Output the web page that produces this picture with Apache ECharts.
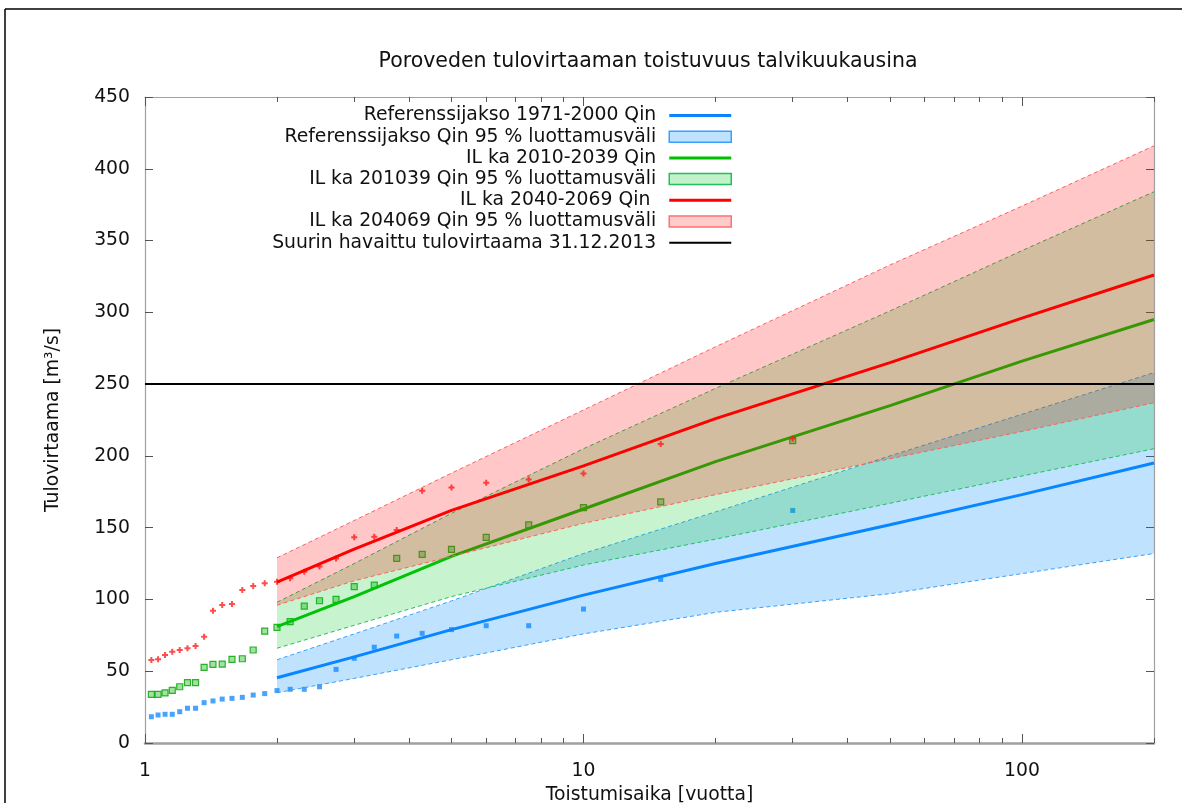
<!DOCTYPE html>
<html><head><meta charset="utf-8">
<script src="https://cdn.jsdelivr.net/npm/echarts@6/dist/echarts.min.js"></script>
<style>html,body{margin:0;padding:0;background:#fff}#c{width:1182px;height:803px}</style>
</head><body><div id="c"></div>
<script>
// ---- data ----
const returnPeriods = [30, 15, 10, 7.5, 6, 5, 4.286, 3.75, 3.333, 3, 2.727, 2.5, 2.308, 2.143, 2, 1.875, 1.765, 1.667, 1.579, 1.5, 1.429, 1.364, 1.304, 1.25, 1.2, 1.154, 1.111, 1.071, 1.034];
const refObserved = [162, 114, 93.3, 81.7, 81.7, 79, 76.4, 74.5, 66.7, 59, 51.3, 39.2, 37.4, 37.4, 36.5, 34.4, 33.4, 31.8, 31.1, 30.6, 29.3, 28.1, 24.2, 24.2, 21.8, 20, 20, 19.5, 18.3];
const il1Observed = [210.6, 168, 164, 152, 143.3, 134.9, 131.4, 128.6, 110, 108.9, 100, 99.1, 95.4, 84.5, 80.6, 78, 64.8, 58.7, 58.3, 55, 54.8, 52.7, 42, 42, 39.2, 36.6, 34.9, 33.9, 33.9];
const il2Observed = [212.2, 208.3, 187.8, 183.6, 181.3, 178, 175.8, 148.4, 143.7, 143.3, 128.6, 123, 119.3, 114.7, 112.4, 111.2, 109.4, 106.6, 96.8, 96.1, 92.2, 74, 67.6, 66, 64.8, 63.6, 61.3, 58.3, 57.8];

const fitT    = [2, 3, 5, 10, 20, 50, 100, 200];
const refFit  = [45.5, 60, 79, 103, 125, 152, 173, 195];
const refLow  = [35, 45, 58, 76, 91, 104, 118, 132];
const refHigh = [58, 76, 99, 132, 161, 200, 229, 258];
const il1Fit  = [81, 102, 130, 163, 196, 235, 266, 295];
const il1Low  = [66, 82, 102, 124, 142, 167, 186, 205];
const il1High = [98, 125, 160, 205, 247, 301, 343, 384];
const il2Fit  = [112, 135, 162, 193, 226, 265, 296, 326];
const il2Low  = [96, 113, 130, 153, 173, 198, 217, 237];
const il2High = [129, 155, 188, 232, 276, 333, 374, 416];

const maxObservedT = [1, 200];
const maxObservedQ = [250, 250];

const xMajorTicks = [1, 10, 100];
const xMinorTicks = [2, 3, 4, 5, 6, 7, 8, 9, 20, 30, 40, 50, 60, 70, 80, 90, 200];

const names = {
  refLine: 'Referenssijakso 1971-2000 Qin',
  refBand: 'Referenssijakso Qin 95 % luottamusväli',
  il1Line: 'IL ka 2010-2039 Qin',
  il1Band: 'IL ka 201039 Qin 95 % luottamusväli',
  il2Line: 'IL ka 2040-2069 Qin ',
  il2Band: 'IL ka 204069 Qin 95 % luottamusväli',
  maxLine: 'Suurin havaittu tulovirtaama 31.12.2013'
};

// ---- helpers ----
const FONT = 'DejaVu Sans';
const pairs = (xs, ys) => xs.map((x, i) => [x, ys[i]]);

function scatter(name, ys, symbol, size, style, z) {
  return { type: 'scatter', name: name, data: pairs(returnPeriods, ys), symbol: symbol, symbolSize: size,
           itemStyle: style, z: z, silent: true };
}
function fitLine(name, ys, color, z) {
  return { type: 'line', name: name, data: pairs(fitT, ys), symbol: 'none', z: z, silent: true,
           lineStyle: { color: color, width: 3 }, itemStyle: { color: color } };
}
function band(name, lo, hi, edge, fill, z) {
  return {
    type: 'custom', name: name, z: z, silent: true, coordinateSystem: 'cartesian2d',
    data: fitT.map((t, i) => [t, lo[i], hi[i]]),
    encode: { x: 0, y: [1, 2] },
    itemStyle: { color: fill },
    renderItem: function (params, api) {
      if (params.dataIndex !== 0) return null;
      const upper = fitT.map((t, i) => api.coord([t, hi[i]]));
      const lower = fitT.map((t, i) => api.coord([t, lo[i]]));
      const poly = upper.concat(lower.slice().reverse());
      const dash = { fill: null, stroke: edge, lineWidth: 1, lineDash: [4, 3] };
      return { type: 'group', children: [
        { type: 'polygon', shape: { points: poly }, style: { fill: fill, stroke: null } },
        { type: 'polyline', shape: { points: upper }, style: dash },
        { type: 'polyline', shape: { points: lower }, style: dash }
      ] };
    }
  };
}

const plusPath = 'path://M2,0H4V2H6V4H4V6H2V4H0V2H2Z';
const barPath3 = 'path://M0,0H62V3H0Z';
const barPath2 = 'path://M0,0H62V2H0Z';

const BLUE = '#0a84ff', GREEN = '#00c000', RED = '#ff0000';
const blueFill = 'rgba(0,140,255,0.25)', greenFill = 'rgba(0,200,30,0.22)', redFill = 'rgba(255,0,0,0.22)';

const series = [
  scatter('_refPts', refObserved, 'rect', 5, { color: '#1a8cff' }, 2),
  fitLine(names.refLine, refFit, BLUE, 3),
  band(names.refBand, refLow, refHigh, '#3aa0ff', blueFill, 4),
  scatter('_il1Pts', il1Observed, 'rect', 6, { color: 'rgba(40,190,40,0.55)', borderColor: '#00a000', borderWidth: 1.2 }, 5),
  fitLine(names.il1Line, il1Fit, GREEN, 6),
  band(names.il1Band, il1Low, il1High, '#20c060', greenFill, 7),
  scatter('_il2Pts', il2Observed, plusPath, 6, { color: '#ff2020' }, 8),
  fitLine(names.il2Line, il2Fit, RED, 9),
  band(names.il2Band, il2Low, il2High, '#ff6060', redFill, 10),
  { type: 'line', name: names.maxLine, data: pairs(maxObservedT, maxObservedQ), symbol: 'none', z: 11, silent: true,
    lineStyle: { color: '#000', width: 2 }, itemStyle: { color: '#000' } }
];

const textBase = { fontFamily: FONT, fontSize: 18.8, color: '#111' };
const AXIS_GRAY = '#a0a0a0';

function xAxisDef(pos, ticks, len, showLine, showLabel, lineWidth) {
  return {
    type: 'log', logBase: 10, min: 1, max: 200, position: pos,
    axisLine: { show: showLine, onZero: false, lineStyle: { color: AXIS_GRAY, width: lineWidth } },
    axisTick: { show: true, inside: true, length: len, customValues: ticks, lineStyle: { color: '#555', width: 1 } },
    axisLabel: showLabel ? Object.assign({ customValues: xMajorTicks, margin: 19 }, textBase) : { show: false },
    splitLine: { show: false }, minorTick: { show: false }, minorSplitLine: { show: false }
  };
}

const xAxes = [
  Object.assign(xAxisDef('bottom', xMajorTicks, 9, true, true, 2.5),
    { name: 'Toistumisaika [vuotta]', nameLocation: 'middle', nameGap: 33, nameTextStyle: textBase }),
  xAxisDef('bottom', xMinorTicks, 5, false, false, 1),
  xAxisDef('top', xMajorTicks, 9, true, false, 1.2),
  xAxisDef('top', xMinorTicks, 5, false, false, 1)
];

const yAxes = [
  { type: 'value', min: 0, max: 450, interval: 50, position: 'left',
    axisLine: { show: true, lineStyle: { color: AXIS_GRAY, width: 1.2 } },
    axisTick: { show: true, inside: true, length: 8, lineStyle: { color: '#555' } },
    axisLabel: Object.assign({ margin: 15 }, textBase),
    splitLine: { show: false },
    name: 'Tulovirtaama [m³/s]', nameLocation: 'middle', nameGap: 82, nameRotate: 90, nameTextStyle: textBase },
  { type: 'value', min: 0, max: 450, interval: 50, position: 'right',
    axisLine: { show: true, lineStyle: { color: AXIS_GRAY, width: 1.2 } },
    axisTick: { show: true, inside: true, length: 8, lineStyle: { color: '#555' } },
    axisLabel: { show: false }, splitLine: { show: false } }
];

const legendData = [
  { name: names.refLine, icon: barPath3, itemStyle: { color: BLUE } },
  { name: names.refBand, icon: 'rect', itemStyle: { color: 'rgba(0,140,255,0.25)', borderColor: '#3aa0ff', borderWidth: 1.5 } },
  { name: names.il1Line, icon: barPath3, itemStyle: { color: GREEN } },
  { name: names.il1Band, icon: 'rect', itemStyle: { color: 'rgba(0,200,30,0.24)', borderColor: '#20c060', borderWidth: 1.5 } },
  { name: names.il2Line, icon: barPath3, itemStyle: { color: RED } },
  { name: names.il2Band, icon: 'rect', itemStyle: { color: 'rgba(255,0,0,0.2)', borderColor: '#ff7070', borderWidth: 1.5 } },
  { name: names.maxLine, icon: barPath2, itemStyle: { color: '#000' } }
];

const chart = echarts.init(document.getElementById('c'), null, { renderer: 'canvas' });
chart.setOption({
  animation: false,
  backgroundColor: '#fff',
  title: { text: 'Poroveden tulovirtaaman toistuvuus talvikuukausina', left: 648, top: 51, textAlign: 'center', padding: 0,
           textStyle: { fontFamily: FONT, fontSize: 20.5, fontWeight: 'normal', color: '#111' } },
  grid: { left: 145, right: 28, top: 97, bottom: 60, containLabel: false, outerBoundsMode: 'none' },
  legend: {
    orient: 'vertical', align: 'right', right: 450, top: 106, padding: 0,
    itemWidth: 62, itemHeight: 11, itemGap: 2.2, selectedMode: false, symbolKeepAspect: true,
    textStyle: Object.assign({ padding: [0, 8, 0, 0], lineHeight: 18 }, textBase),
    data: legendData
  },
  xAxis: xAxes,
  yAxis: yAxes,
  series: series,
  graphic: [
    { type: 'line', shape: { x1: 5, y1: 9, x2: 1182, y2: 9 }, style: { stroke: '#000', lineWidth: 1.5 }, silent: true },
    { type: 'line', shape: { x1: 5, y1: 9, x2: 5, y2: 803 }, style: { stroke: '#000', lineWidth: 1.5 }, silent: true }
  ]
});
</script></body></html>
